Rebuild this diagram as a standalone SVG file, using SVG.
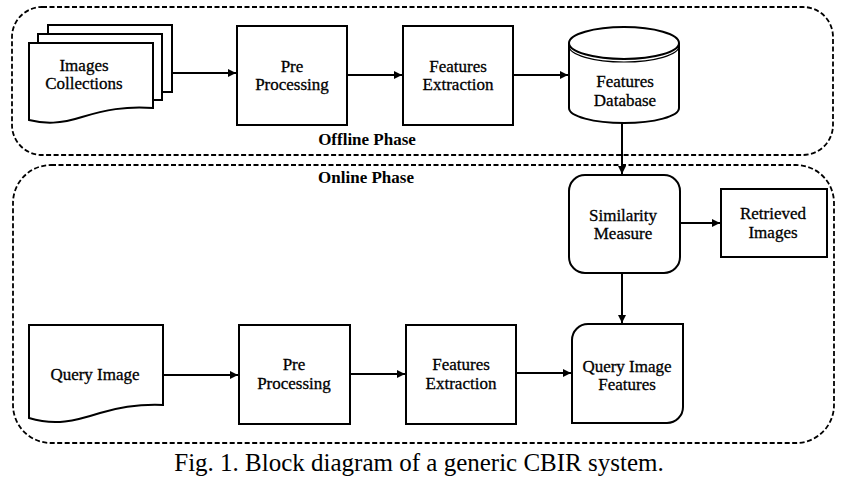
<svg xmlns="http://www.w3.org/2000/svg" width="845" height="478" viewBox="0 0 845 478">
<style>
.n{fill:#fff;stroke:#000;stroke-width:2}
.t{font-family:"Liberation Serif","Times New Roman",serif;font-size:17px;fill:#000;stroke:#000;stroke-width:0.3;text-anchor:middle}
.p{font-family:"Liberation Serif","Times New Roman",serif;font-size:17px;font-weight:bold;fill:#000;text-anchor:middle}
.c{fill:none;stroke:#000;stroke-width:2}
.d{fill:none;stroke:#000;stroke-width:1.8;stroke-dasharray:5 2.5}
</style>
<defs>
<marker id="a" viewBox="0 0 10 10" refX="10" refY="5" markerWidth="4" markerHeight="4" orient="auto" markerUnits="strokeWidth">
<path d="M0,0 L10,5 L0,10 Z" fill="#000"/>
</marker>
</defs>
<rect width="845" height="478" fill="#fff"/>
<g id="offline-phase">
<rect class="d" x="12" y="7" width="821" height="148" rx="30"/>
<text class="p" x="367" y="145">Offline Phase</text>
</g>
<g id="online-phase">
<rect class="d" x="13" y="165" width="821" height="278" rx="38"/>
<text class="p" x="366" y="183">Online Phase</text>
</g>
<g id="connectors">
<line class="c" x1="172" y1="73" x2="236" y2="73" marker-end="url(#a)"/>
<line class="c" x1="347" y1="75" x2="402" y2="75" marker-end="url(#a)"/>
<line class="c" x1="513" y1="75" x2="568" y2="75" marker-end="url(#a)"/>
<line class="c" x1="622" y1="123" x2="622" y2="174" marker-end="url(#a)"/>
<line class="c" x1="680" y1="223" x2="720" y2="223" marker-end="url(#a)"/>
<line class="c" x1="622" y1="273" x2="622" y2="323" marker-end="url(#a)"/>
<line class="c" x1="163" y1="375" x2="238" y2="375" marker-end="url(#a)"/>
<line class="c" x1="350" y1="374" x2="405" y2="374" marker-end="url(#a)"/>
<line class="c" x1="516" y1="373" x2="571" y2="373" marker-end="url(#a)"/>
</g>
<g id="images-collections">
<path class="n" d="M48,25 H172 V92 H48 Z"/>
<path class="n" d="M38,34 H162 V100 H38 Z"/>
<path class="n" d="M29,43 H153 V108 C125,106 105,110 82,117 C60,124 45,124 29,120 Z"/>
<text class="t" x="84" y="71">Images</text>
<text class="t" x="84" y="89">Collections</text>
</g>
<g id="pre-processing-1">
<rect class="n" x="237" y="26" width="110" height="99"/>
<text class="t" x="292" y="72">Pre</text>
<text class="t" x="292" y="90">Processing</text>
</g>
<g id="features-extraction-1">
<rect class="n" x="403" y="26" width="110" height="99"/>
<text class="t" x="458" y="72">Features</text>
<text class="t" x="458" y="90">Extraction</text>
</g>
<g id="features-database">
<path class="n" d="M569,43 V108 A55,15 0 0 0 679,108 V43"/>
<ellipse class="n" cx="624" cy="43" rx="55" ry="16"/>
<path fill="none" stroke="#000" stroke-width="1.2" d="M569,46 A55,16 0 0 0 679,46"/>
<text class="t" x="625" y="87">Features</text>
<text class="t" x="625" y="106">Database</text>
</g>
<g id="similarity-measure">
<rect class="n" x="569" y="175" width="111" height="98" rx="16"/>
<text class="t" x="623" y="221">Similarity</text>
<text class="t" x="623" y="239">Measure</text>
</g>
<g id="retrieved-images">
<rect class="n" x="721" y="189" width="106" height="68"/>
<text class="t" x="773" y="219" font-size="16">Retrieved</text>
<text class="t" x="773" y="238" font-size="16">Images</text>
</g>
<g id="query-image">
<path class="n" d="M29,325 H163 V405 C140,404 120,407 100,413 C75,421 55,426 29,418 Z"/>
<text class="t" x="95" y="380">Query Image</text>
</g>
<g id="pre-processing-2">
<rect class="n" x="239" y="325" width="111" height="99"/>
<text class="t" x="294" y="370">Pre</text>
<text class="t" x="294" y="389">Processing</text>
</g>
<g id="features-extraction-2">
<rect class="n" x="406" y="325" width="110" height="99"/>
<text class="t" x="461" y="370">Features</text>
<text class="t" x="461" y="389">Extraction</text>
</g>
<g id="query-image-features">
<path class="n" d="M588,324 H683 V407 A16,16 0 0 1 667,423 H572 V340 A16,16 0 0 1 588,324 Z"/>
<text class="t" x="627" y="372">Query Image</text>
<text class="t" x="627" y="390">Features</text>
</g>
<text x="419" y="471" font-family="Liberation Serif,'Times New Roman',serif" font-size="25" text-anchor="middle" fill="#000">Fig. 1. Block diagram of a generic CBIR system.</text>
</svg>
